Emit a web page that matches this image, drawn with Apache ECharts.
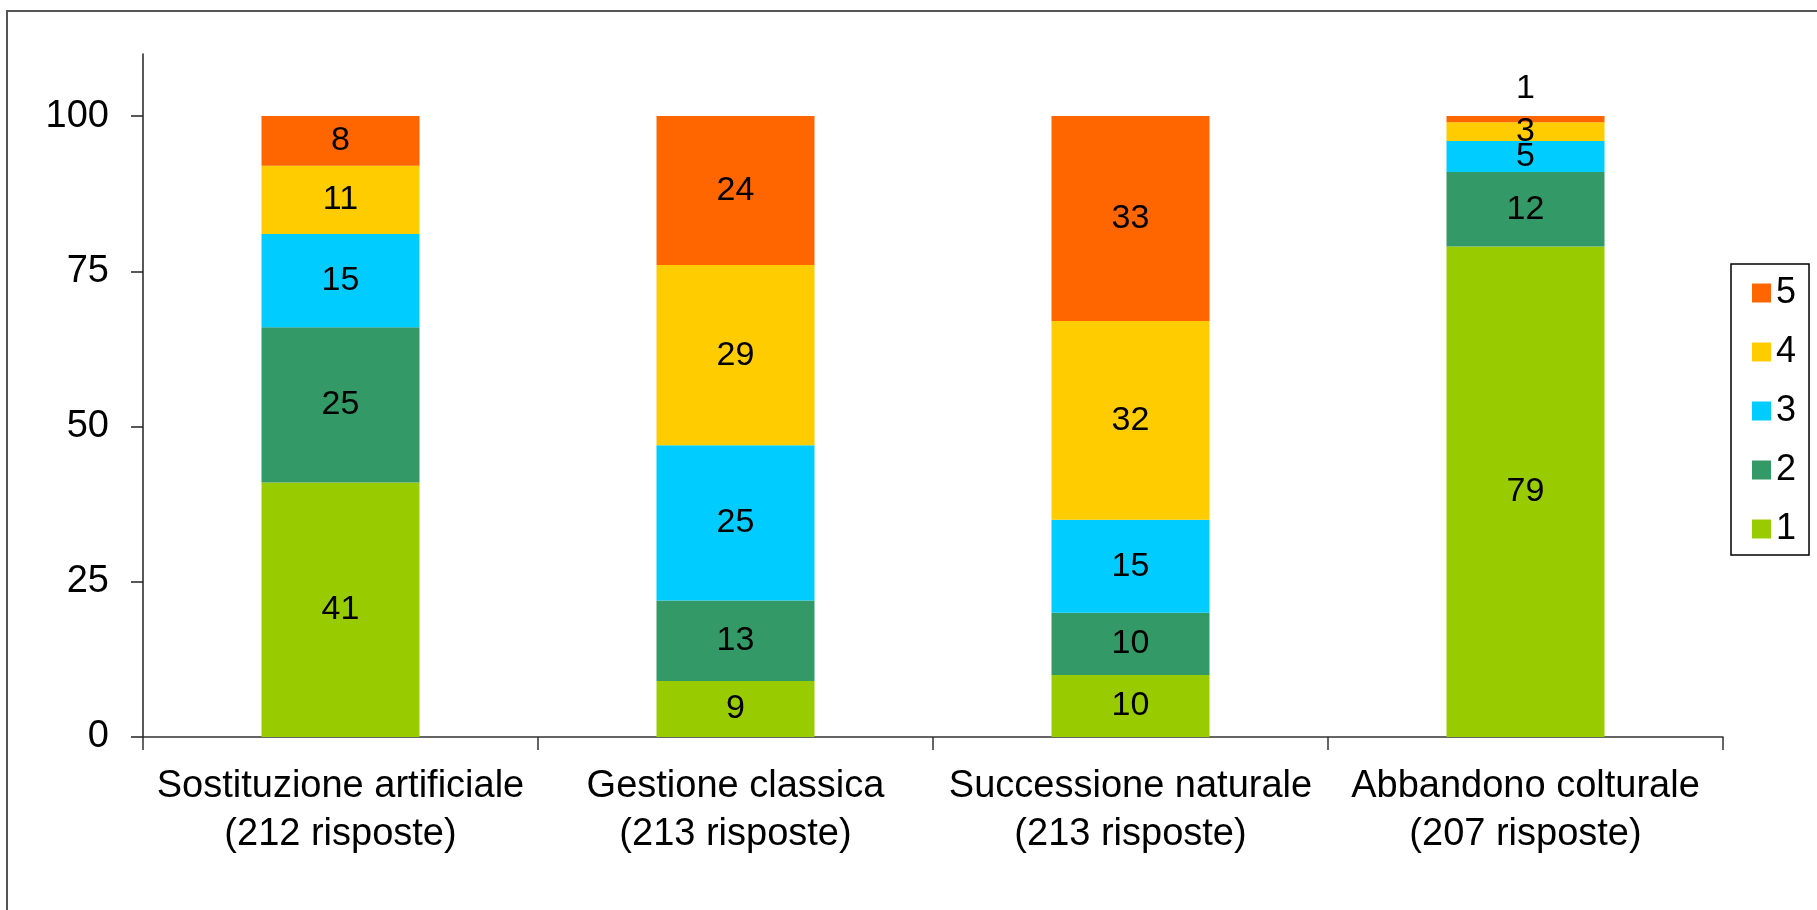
<!DOCTYPE html>
<html lang="it">
<head>
	<meta charset="utf-8" />
	<title>Risposte per scenario</title>
	<style>
		html, body { margin: 0; padding: 0; background: #fff; }
		#chart { width: 1817px; height: 910px; }
	</style>
</head>
<body>
	<div id="chart"></div>
	<script type="text/javascript" src="https://cdn.jsdelivr.net/npm/echarts@6/dist/echarts.min.js"></script>
	<script type="text/javascript">
		// categorie (asse x)
		const categories = [
			"Sostituzione artificiale\n(212 risposte)",
			"Gestione classica\n(213 risposte)",
			"Successione naturale\n(213 risposte)",
			"Abbandono colturale\n(207 risposte)"
		];
		// valori per punteggio (1 = in basso)
		const score1 = [41, 9, 10, 79];
		const score2 = [25, 13, 10, 12];
		const score3 = [15, 25, 15, 5];
		const score4 = [11, 29, 32, 3];
		const score5 = [8, 24, 33, 1];
		const yTicks = [0, 25, 50, 75, 100];

		const font = "'Liberation Sans', Arial, sans-serif";
		const colors = ["#99CC00", "#339966", "#00CCFF", "#FFCC00", "#FF6600"];
		const seriesData = [score1, score2, score3, score4, score5];

		const chart = echarts.init(document.getElementById("chart"));

		const series = seriesData.map(function (vals, i) {
			return {
				name: String(i + 1),
				type: "bar",
				stack: "tot",
				barWidth: "40%",
				itemStyle: { color: colors[i] },
				label: {
					show: true,
					position: "inside",
					color: "#000",
					fontFamily: font,
					fontSize: 34
				},
				data: vals.map(function (v) {
					// segmento troppo sottile: etichetta sopra la barra
					if (i === 4 && v < 2) {
						return { value: v, label: { position: "top", distance: 10 } };
					}
					return v;
				})
			};
		});

		chart.setOption({
			animation: false,
			color: colors,
			grid: {
				left: 143,
				right: 94,
				top: 54,
				bottom: 173
			},
			legend: {
				orient: "vertical",
				left: 1731,
				top: 264,
				data: ["5", "4", "3", "2", "1"],
				itemWidth: 19,
				itemHeight: 19,
				itemGap: 23,
				icon: "rect",
				padding: [11, 13, 8, 21],
				borderColor: "#000",
				borderWidth: 1.5,
				textStyle: {
					fontFamily: font,
					fontSize: 36,
					color: "#000"
				}
			},
			xAxis: {
				type: "category",
				data: categories,
				axisLine: { lineStyle: { color: "#333", width: 1.5 } },
				axisTick: { show: true, length: 13, alignWithLabel: false, lineStyle: { color: "#333", width: 1.5 } },
				axisLabel: {
					color: "#000",
					fontFamily: font,
					fontSize: 38,
					lineHeight: 48,
					margin: 26,
					interval: 0
				}
			},
			yAxis: {
				type: "value",
				min: 0,
				max: 110,
				interval: 25,
				splitLine: { show: false },
				axisLine: { show: true, lineStyle: { color: "#222", width: 1.5 } },
				axisTick: { show: true, length: 12, customValues: yTicks, lineStyle: { color: "#222", width: 1.5 } },
				axisLabel: {
					color: "#000",
					fontFamily: font,
					fontSize: 38,
					margin: 34,
					customValues: yTicks
				}
			},
			graphic: [{
				type: "rect",
				silent: true,
				shape: { x: 7, y: 11, width: 2000, height: 2000 },
				style: { fill: "none", stroke: "#555", lineWidth: 2 }
			}],
			series: series
		});
	</script>
</body>
</html>
